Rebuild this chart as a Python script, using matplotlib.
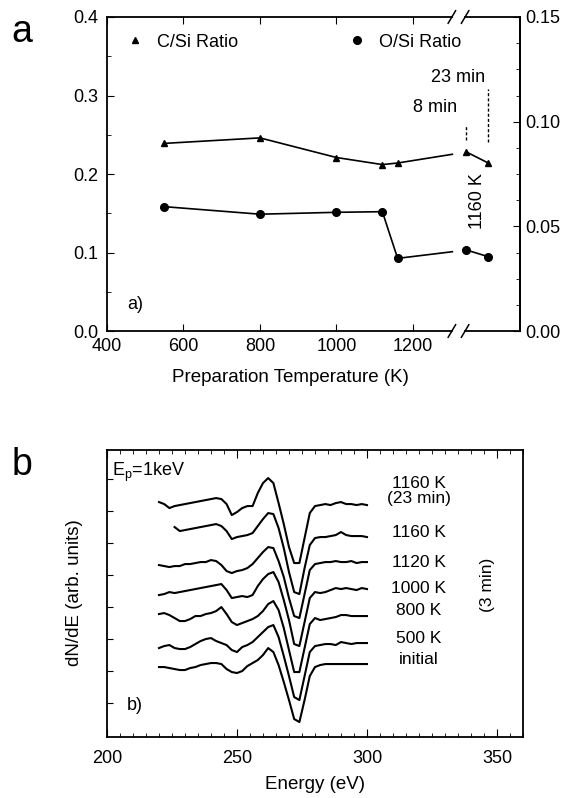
import numpy as np
import matplotlib
matplotlib.use("Agg")
import matplotlib.pyplot as plt
from matplotlib.ticker import FixedLocator, MultipleLocator, NullFormatter

plt.rcParams["font.family"] = ["Liberation Sans", "DejaVu Sans"]
plt.rcParams["mathtext.default"] = "regular"
plt.rcParams["font.size"] = 13
plt.rcParams["axes.linewidth"] = 1.3

# ---- panel a: surface ratios vs preparation temperature ----
temp_K = [550, 800, 1000, 1120, 1160]
c_si = [0.239, 0.246, 0.221, 0.212, 0.214]            # left axis
o_si = [0.0594, 0.0558, 0.0567, 0.0570, 0.0347]       # right axis
hold_labels = ["8 min", "23 min"]                     # longer anneals at 1160 K
c_si_hold = [0.228, 0.214]
o_si_hold = [0.0387, 0.0355]

# ---- panel b: C KLL dN/dE spectra (arb. units, offset as plotted) ----
energy_eV = np.arange(220, 302, 2)
spec_labels = ["1160 K\n(23 min)", "1160 K", "1120 K", "1000 K", "800 K", "500 K", "initial"]
spec_1160_23 = [235, 233, 229, 231, 232, 233, 234, 235, 236, 237, 238, 239, 238, 233, 222,
                225, 229, 231, 231, 244, 254, 259, 254, 234, 213, 190, 174, 174, 199, 224,
                231, 232, 233, 232, 234, 235, 233, 233, 232, 233, 232]
spec_1160 = [np.nan, np.nan, np.nan, 210, 206, 207, 208, 209, 210, 211, 212, 213, 211, 206, 198,
             200, 201, 202, 204, 211, 218, 224, 223, 209, 189, 165, 145, 143, 169, 192,
             199, 200, 200, 201, 202, 205, 202, 201, 201, 201, 200]
spec_1120 = [172, 171, 170, 171, 171, 173, 173, 174, 175, 175, 177, 176, 172, 166, 164,
             166, 167, 169, 173, 179, 185, 190, 189, 176, 160, 139, 121, 119, 143, 167,
             173, 174, 175, 175, 176, 175, 175, 176, 174, 175, 175]
spec_1000 = [142, 143, 145, 144, 145, 146, 147, 148, 149, 150, 151, 152, 153, 147, 139,
             140, 141, 140, 142, 151, 158, 163, 165, 155, 137, 117, 93, 91, 115, 139,
             145, 144, 145, 147, 149, 148, 149, 148, 147, 149, 148]
spec_800 = [123, 124, 122, 119, 116, 116, 118, 121, 121, 123, 124, 126, 130, 123, 115,
            112, 114, 116, 118, 121, 126, 133, 136, 127, 109, 87, 65, 65, 89, 113,
            119, 117, 118, 119, 120, 122, 122, 121, 121, 121, 121]
spec_500 = [89, 91, 92, 89, 88, 88, 90, 93, 96, 98, 99, 96, 94, 92, 87,
            85, 90, 92, 95, 100, 105, 110, 112, 100, 81, 61, 40, 37, 61, 85,
            91, 92, 93, 93, 92, 95, 94, 93, 94, 94, 94]
spec_initial = [70, 70, 69, 68, 67, 67, 69, 70, 72, 73, 74, 74, 73, 68, 65,
                64, 66, 71, 74, 77, 82, 89, 85, 72, 55, 37, 18, 15, 37, 61,
                70, 72, 73, 73, 73, 73, 73, 73, 73, 73, 73]
spectra = [spec_1160_23, spec_1160, spec_1120, spec_1000, spec_800, spec_500, spec_initial]

# ---- layout ----
fig = plt.figure(figsize=(5.78, 7.98), dpi=100)

ax = fig.add_axes([0.1851, 0.5852, 0.7146, 0.3935])
ax_r = ax.twinx()
ax.set_xlim(400, 1480)
ax.set_ylim(0, 0.4)
ax_r.set_ylim(0, 0.15)

break_at = 1303            # temperature scale ends here
hold_x = [1340, 1397]      # slots for the 1160 K hold points after the break

# line from the last temperature point runs into the break
c_end = np.interp(break_at, [temp_K[-1], hold_x[0]], [c_si[-1], c_si_hold[0]])
o_end = np.interp(break_at, [temp_K[-1], hold_x[0]], [o_si[-1], o_si_hold[0]])

ax.plot(temp_K + [break_at], c_si + [c_end], color="k", lw=1.2)
h_c, = ax.plot(temp_K, c_si, ls="none", marker="^", ms=5, color="k")
ax.plot(hold_x, c_si_hold, color="k", lw=1.2, marker="^", ms=5)

ax_r.plot(temp_K + [break_at], o_si + [o_end], color="k", lw=1.2)
h_o, = ax_r.plot(temp_K, o_si, ls="none", marker="o", ms=5.5, color="k")
ax_r.plot(hold_x, o_si_hold, color="k", lw=1.2, marker="o", ms=5.5)

# dashed leaders from the hold labels
leader_bot = [0.243, 0.241]
leader_top = [0.262, 0.308]
for xh, y0, y1 in zip(hold_x, leader_bot, leader_top):
    ax.plot([xh, xh], [y0, y1], color="k", lw=1.0, dashes=(2.2, 1.5))
ax.text(1315, 0.2845, hold_labels[0], ha="right", va="center")
ax.text(1388, 0.3227, hold_labels[1], ha="right", va="center")
ax.text(1368, 0.165, "1160 K", rotation=90, ha="center", va="center")
ax.text(0.048, 0.083, "a)", transform=ax.transAxes, ha="left", va="center")

ax.legend([h_c], ["C/Si Ratio"], loc="center left", bbox_to_anchor=(0.046, 0.92),
          frameon=False, handlelength=1.0, handletextpad=0.7, borderpad=0, borderaxespad=0)
ax_r.legend([h_o], ["O/Si Ratio"], loc="center left", bbox_to_anchor=(0.584, 0.92),
            frameon=False, handlelength=1.0, handletextpad=0.7, borderpad=0, borderaxespad=0)

ax.xaxis.set_major_locator(FixedLocator([400, 600, 800, 1000, 1200]))
ax.yaxis.set_major_locator(MultipleLocator(0.1))
ax.yaxis.set_minor_locator(MultipleLocator(0.05))
ax.tick_params(axis="both", which="both", direction="in", top=True, right=False)
ax.tick_params(axis="x", which="major", length=5, pad=5)
ax.tick_params(axis="y", which="major", length=5, pad=6)
ax.tick_params(axis="y", which="minor", length=3)

ax_r.yaxis.set_major_locator(MultipleLocator(0.05))
ax_r.yaxis.set_minor_locator(MultipleLocator(0.0125))
ax_r.yaxis.set_major_formatter(plt.FormatStrFormatter("%.2f"))
ax_r.tick_params(axis="y", which="both", direction="in", pad=4)
ax_r.tick_params(axis="y", which="major", length=5)
ax_r.tick_params(axis="y", which="minor", length=3)
for side in ("top", "bottom", "left"):
    ax_r.spines[side].set_visible(False)

ax.set_xlabel("Preparation Temperature (K)", fontsize=13.5)
ax.xaxis.set_label_coords(0.443, -0.147)
ax.xaxis.label.set_va("center")

# axis break marks on top and bottom spines
for yb in (0.0, 1.0):
    ax_r.plot([0.842, 0.860], [yb, yb], color="white", lw=3, transform=ax_r.transAxes,
              clip_on=False, zorder=5)
    for xc in (0.835, 0.867):
        ax_r.plot([xc - 0.009, xc + 0.009], [yb - 0.02, yb + 0.02], color="k", lw=1.1,
                  transform=ax_r.transAxes, clip_on=False, zorder=6)

# ---- panel b ----
axb = fig.add_axes([0.1851, 0.0764, 0.7197, 0.3596])
for spec in spectra:
    axb.plot(energy_eV, spec, color="k", lw=1.5, solid_joinstyle="round")
axb.set_xlim(200, 360)
axb.set_ylim(0, 287)

label_y = [246, 205, 175, 149, 127, 99, 78]
for lab, ly in zip(spec_labels, label_y):
    axb.text(320, ly, lab, ha="center", va="center", linespacing=1.05, fontsize=12.5)
axb.text(346.3, 152, "(3 min)", rotation=90, ha="center", va="center", fontsize=12.5)
axb.text(202, 265, "E$_p$=1keV", ha="left", va="center")
axb.text(0.048, 0.111, "b)", transform=axb.transAxes, ha="left", va="center")

axb.xaxis.set_major_locator(MultipleLocator(50))
axb.xaxis.set_minor_locator(MultipleLocator(5))
axb.yaxis.set_major_locator(FixedLocator(np.arange(34, 287, 32)))
axb.yaxis.set_major_formatter(NullFormatter())
axb.tick_params(axis="x", which="both", direction="in", top=True, pad=9)
axb.tick_params(axis="x", which="major", length=6)
axb.tick_params(axis="x", which="minor", length=3)
axb.tick_params(axis="y", which="both", direction="in", length=4, left=True, right=False)

axb.set_xlabel("Energy (eV)", fontsize=13.5)
axb.xaxis.set_label_coords(0.5, -0.167)
axb.xaxis.label.set_va("center")
axb.set_ylabel("dN/dE (arb. units)", fontsize=13.5)
axb.yaxis.set_label_coords(-0.077, 0.502)
axb.yaxis.label.set_va("center")

fig.text(0.038, 0.9474, "a", fontsize=27, ha="center", va="baseline")
fig.text(0.038, 0.4048, "b", fontsize=27, ha="center", va="baseline")

fig.savefig("out.png", dpi=100)
